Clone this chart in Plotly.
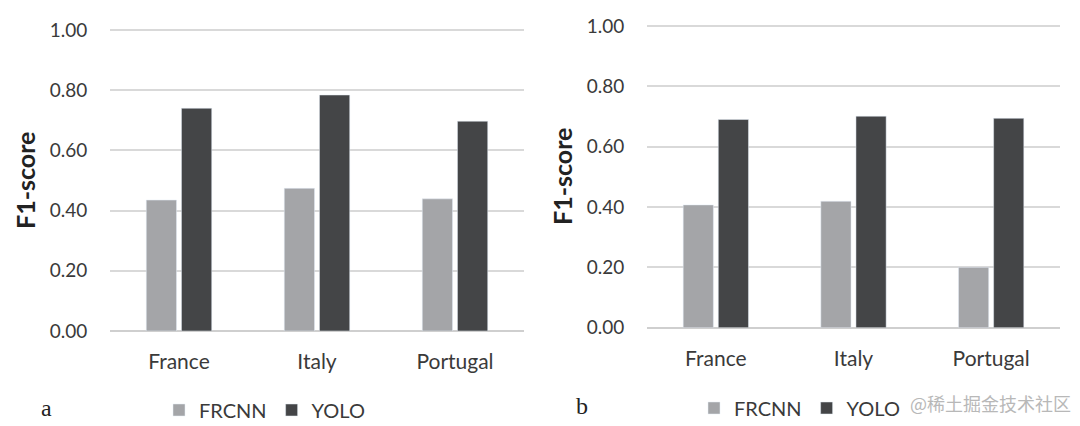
import plotly.graph_objects as go

categories = ["France", "Italy", "Portugal"]
frcnn_a = [0.435, 0.474, 0.439]
yolo_a = [0.740, 0.784, 0.697]
frcnn_b = [0.407, 0.419, 0.200]
yolo_b = [0.690, 0.701, 0.694]
tick_vals = [0.0, 0.2, 0.4, 0.6, 0.8, 1.0]
panel_labels = ["a", "b"]
series_names = ["FRCNN", "YOLO"]

C_FR = "#a4a5a8"
C_YO = "#444547"
FONT = "Lato, 'Open Sans', sans-serif"

fig = go.Figure()
fig.add_trace(go.Bar(x=categories, y=frcnn_a, name=series_names[0], marker_color=C_FR,
                     xaxis="x", yaxis="y", legend="legend"))
fig.add_trace(go.Bar(x=categories, y=yolo_a, name=series_names[1], marker_color=C_YO,
                     xaxis="x", yaxis="y", legend="legend"))
fig.add_trace(go.Bar(x=categories, y=frcnn_b, name=series_names[0], marker_color=C_FR,
                     xaxis="x2", yaxis="y2", legend="legend2"))
fig.add_trace(go.Bar(x=categories, y=yolo_b, name=series_names[1], marker_color=C_YO,
                     xaxis="x2", yaxis="y2", legend="legend2"))

W, H = 1080, 426
def px(v): return v / W
def py(v): return 1 - v / H

YTOP = 1.006
yax = dict(range=[0, YTOP], tickvals=tick_vals, tickformat=".2f", showgrid=True,
           gridcolor="#d9d9d9", gridwidth=1.6, zeroline=True, zerolinecolor="#cfcfcf",
           zerolinewidth=1.6, showline=False, ticks="outside", ticklen=18,
           tickcolor="rgba(0,0,0,0)", tickfont=dict(family=FONT, size=19, color="#3a3a3a"),
           fixedrange=True, automargin=False)
xax = dict(showgrid=False, showline=False, ticks="outside", ticklen=12,
           tickcolor="rgba(0,0,0,0)", tickfont=dict(family=FONT, size=21, color="#3a3a3a"),
           automargin=False, fixedrange=True)

def ydom(p0, p1):
    top = p1 - (YTOP - 1) * (p0 - p1)
    return [py(p0), py(top)]

fig.update_layout(
    width=W, height=H, margin=dict(l=0, r=0, t=0, b=0, autoexpand=False),
    paper_bgcolor="white", plot_bgcolor="white",
    barmode="group", bargap=0.49, bargroupgap=0.14,
    xaxis=dict(domain=[px(110), px(524)], anchor="y", **xax),
    yaxis=dict(domain=ydom(331, 30), anchor="x", **yax),
    xaxis2=dict(domain=[px(647), px(1060)], anchor="y2", **xax),
    yaxis2=dict(domain=ydom(327.7, 26), anchor="x2", **yax),
    legend=dict(orientation="h", x=px(159), y=py(410), xanchor="left", yanchor="middle",
                font=dict(family=FONT, size=20, color="#3a3a3a"), itemwidth=30,
                bgcolor="rgba(0,0,0,0)"),
    legend2=dict(orientation="h", x=px(694), y=py(408), xanchor="left", yanchor="middle",
                 font=dict(family=FONT, size=20, color="#3a3a3a"), itemwidth=30,
                 bgcolor="rgba(0,0,0,0)"),
    annotations=[
        dict(text="F1-score", x=px(25), y=py(181), xref="paper", yref="paper",
             textangle=-90, showarrow=False, font=dict(family=FONT, size=25, color="#222222"),
             xanchor="center", yanchor="middle"),
        dict(text="F1-score", x=px(562), y=py(177), xref="paper", yref="paper",
             textangle=-90, showarrow=False, font=dict(family=FONT, size=25, color="#222222"),
             xanchor="center", yanchor="middle"),
        dict(text=panel_labels[0], x=px(46), y=py(408), xref="paper", yref="paper",
             showarrow=False, font=dict(family="Liberation Serif, serif", size=24, color="#222222"),
             xanchor="center", yanchor="middle"),
        dict(text=panel_labels[1], x=px(582), y=py(406), xref="paper", yref="paper",
             showarrow=False, font=dict(family="Liberation Serif, serif", size=24, color="#222222"),
             xanchor="center", yanchor="middle"),
        dict(text="@稀土掘金技术社区", x=px(1073), y=py(403), xref="paper", yref="paper",
             showarrow=False, font=dict(family="Noto Sans CJK SC", size=18, color="#b8b8b8"),
             xanchor="right", yanchor="middle"),
    ],
)
for a in fig.layout.annotations[:2]:
    a.font.weight = "bold"

fig.write_html("out.html", config={"displayModeBar": False},
               post_script="document.body.style.margin='0';document.body.style.overflow='hidden';")
